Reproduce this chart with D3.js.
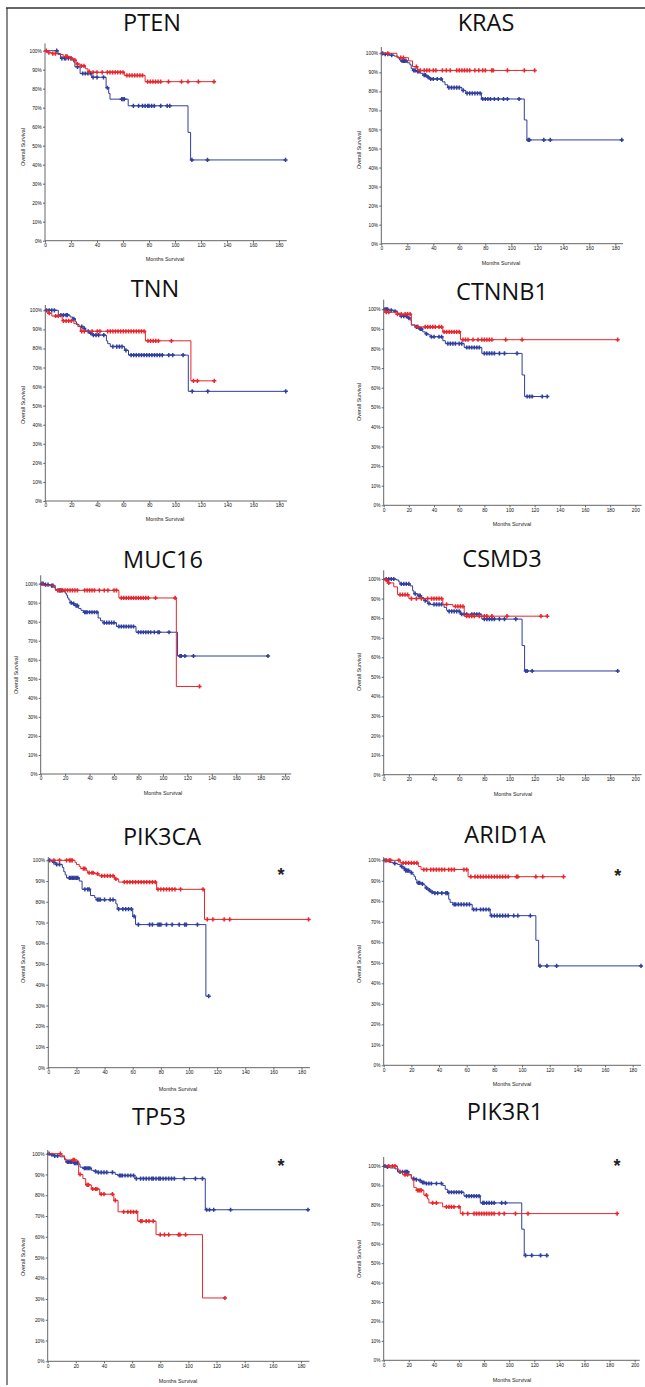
<!DOCTYPE html>
<html>
<head>
<meta charset="utf-8">
<script src="https://cdn.jsdelivr.net/npm/d3@7"></script>
<style>
body { margin: 0; background: #fff; }
svg { display: block; }
.title { font-family: 'Open Sans', sans-serif; font-size: 23.5px; fill: #111; }
.axis text { font-family: 'Liberation Sans', Arial, sans-serif; font-size: 4.8px; fill: #111; }
.axis line, .axis path { stroke: #555; }
.label { font-family: 'Liberation Sans', Arial, sans-serif; font-size: 5.4px; fill: #222; }
.star { font-family: 'Liberation Sans', Arial, sans-serif; font-size: 18px; font-weight: bold; fill: #222; }
</style>
</head>
<body>
<script>
const genes = ['PTEN', 'KRAS', 'TNN', 'CTNNB1', 'MUC16', 'CSMD3', 'PIK3CA', 'ARID1A', 'TP53', 'PIK3R1']
const starred = ['PIK3CA', 'ARID1A', 'TP53', 'PIK3R1']

const yTicks = d3.range(0, 101, 10)

// step points [month, survival %] and censor times, red = altered, blue = unaltered
const ptenRed = [[0,100],[2,99],[5,98.5],[10,98],[14,97],[19,96],[22,95],[24,93],[27,92],[31,90.5],[33,89],[35,88.6],[61,87],[77,83.7]]
const ptenRedCens = [1,3,6,8,16,17,20,23,25,28,30,34,37,40,44,48,50,52,54,56,58,60,63,65,67,69,71,73,75,79,81,83,85,87,89,95,105,110,118,130]
const ptenBlue = [[0,100],[10,98.5],[12,96],[21,95],[22,94],[23,91.5],[27,88],[36,86],[47,80.5],[49,77.5],[50,74.5],[64,71],[110,57],[112,42.5]]
const ptenBlueCens = [9,13,15,16,18,20,25,29,31,33,35,37,40,45,48,59,60,61,68,72,75,77,79,80,82,84,89,94,96,113,125,185]

const krasRed = [[0,100],[12,97.7],[21,96],[24,93],[28,91]]
const krasRedCens = [5,15,17,27,30,33,35,37,40,42,47,50,53,58,60,62,64,66,68,72,75,78,80,85,86,97,110,118]
const krasBlue = [[0,100],[2,99.5],[6,99],[10,98.5],[13,97.5],[14,96.5],[15,96],[20,95],[22,94],[23,92],[24,91],[27,90.5],[30,89.5],[32,88.5],[35,87.5],[37,86.5],[47,85],[49,83.5],[51,82],[62,80.5],[65,79],[77,76],[110,65],[112,54.5]]
const krasBlueCens = [1,3,5,8,16,17,18,19,25,26,28,29,33,34,36,38,40,43,46,52,54,56,58,60,63,66,68,70,72,74,76,78,80,82,84,87,90,94,97,106,113,114,125,130,185]

const tnnRed = [[0,100],[2,98.5],[5,97],[13,94.5],[22,93],[25,91.5],[27,89],[77,84],[112,63]]
const tnnRedCens = [3,8,10,14,16,18,20,28,30,36,40,42,48,50,52,54,56,58,60,62,64,66,68,70,72,74,76,79,81,83,85,87,97,114,117,130]
const tnnBlue = [[0,100],[10,97.5],[19,96.5],[21,95.5],[23,94],[24,92.5],[26,91.5],[29,90.5],[31,89],[34,88],[36,87],[47,84],[48,82.5],[50,81],[61,79],[64,76.5],[110,57.5]]
const tnnBlueCens = [1,3,5,7,12,14,16,17,22,28,30,33,35,37,39,41,45,52,55,57,59,62,66,68,70,72,74,76,78,80,82,84,86,88,90,95,98,106,113,125,185]

const ctnnb1Red = [[0,100],[1,98.5],[10,97.5],[22,92],[25,91],[47,88.5],[61,84.5]]
const ctnnb1RedCens = [2,4,11,14,17,19,21,27,33,35,37,39,41,44,46,48,50,52,54,56,58,60,63,65,67,71,75,78,80,82,84,86,97,110,186]
const ctnnb1Blue = [[0,100],[4,99.5],[8,99],[11,98],[13,96.5],[19,95.5],[21,94.5],[22,92],[25,91],[28,90],[31,88.5],[33,87.5],[35,87],[37,86],[47,84],[49,82.5],[64,80.5],[78,77.5],[110,66.5],[112,55.5]]
const ctnnb1BlueCens = [1,2,3,6,9,14,16,18,20,26,27,29,30,34,38,40,44,46,51,53,55,57,60,62,66,68,70,72,74,76,80,82,84,86,88,92,96,106,114,116,118,126,130]

const muc16Red = [[0,100],[2,99],[12,96.5],[64,92.5],[111,46]]
const muc16RedCens = [14,16,18,20,22,24,26,28,30,36,38,40,42,44,48,52,55,60,62,66,68,70,72,74,76,78,80,82,84,86,88,94,110,130]
const muc16Blue = [[0,100],[3,99.5],[8,99],[11,98],[12,97],[14,96.5],[18,96],[20,95],[21,94],[22,92.5],[23,91.5],[24,90],[26,89.5],[28,88.5],[31,87],[33,86],[35,85],[47,82],[49,80.5],[51,79.5],[62,77.5],[78,74.5],[112,62]]
const muc16BlueCens = [1,2,4,6,9,10,15,16,17,25,27,29,30,36,37,38,40,42,44,46,52,54,56,58,60,64,66,68,70,72,74,76,80,82,84,86,88,90,93,96,97,105,114,115,118,125,186]

const csmd3Red = [[0,100],[1,99.5],[3,98],[8,96],[11,92],[20,90],[47,87],[55,86],[64,81]]
const csmd3RedCens = [2,4,13,15,17,19,22,26,30,35,38,40,42,44,46,50,57,59,61,63,66,68,70,72,76,80,82,86,98,125,130]
const csmd3Blue = [[0,100],[10,99.5],[12,98.5],[13,97.5],[21,96.5],[23,94],[24,92.5],[27,91.5],[30,90.5],[32,89],[34,88.5],[35,87.5],[37,87],[48,85.5],[50,84],[51,83.5],[61,82],[78,79.5],[110,66],[112,53]]
const csmd3BlueCens = [2,4,6,8,14,16,18,20,25,28,29,33,36,40,42,44,46,52,54,56,58,60,62,64,66,70,72,74,76,80,82,84,86,88,92,96,105,113,114,118,186]

const pik3caRed = [[0,100],[19,99],[20,98],[22,97],[23,96],[27,95],[28,94],[33,93.5],[36,92.5],[47,91],[50,89.5],[77,86],[111,71.5]]
const pik3caRedCens = [4,8,13,15,16,17,25,26,29,31,32,35,38,40,42,44,46,48,54,56,58,60,62,64,66,68,70,72,74,76,78,80,82,84,86,88,90,94,110,113,117,125,129,185]
const pik3caBlue = [[0,100],[2,99.5],[3,99],[5,98],[10,96.5],[11,94.5],[12,93],[13,91.5],[22,90],[24,86],[30,83],[33,82],[34,81],[48,79],[49,76.5],[60,73],[62,69],[112,34.5]]
const pik3caBlueCens = [1,4,6,8,15,16,17,18,19,20,21,26,28,29,35,36,37,40,44,46,50,53,55,57,59,61,64,72,74,78,79,80,84,88,93,97,98,106,114]

const arid1aRed = [[0,100],[12,98.7],[25,97],[27,95.5],[61,92]]
const arid1aRedCens = [2,4,5,11,14,16,18,20,22,24,29,31,34,36,38,40,42,44,47,49,51,58,60,63,66,68,70,72,74,76,78,80,82,84,86,88,90,96,97,110,115,130]
const arid1aBlue = [[0,100],[2,99.5],[4,99],[7,98.5],[10,98],[12,97],[14,96],[16,95],[19,94],[21,93],[22,92],[23,90.5],[24,89],[27,88.5],[29,88],[30,86.5],[32,85.5],[34,84.5],[36,84],[47,81],[48,79.5],[50,78.5],[64,76],[77,73],[110,61],[112,48.5]]
const arid1aBlueCens = [1,8,13,15,16,17,18,20,25,26,28,31,33,35,37,39,42,45,46,51,52,54,56,58,60,62,65,67,70,72,74,76,78,80,82,84,86,88,90,94,97,106,113,118,125,186]

const tp53Red = [[0,100],[10,99],[12,97],[21,96.5],[22,90],[25,88],[27,85],[31,83],[37,80.5],[47,77.5],[50,72],[64,67.5],[77,61],[110,30.5]]
const tp53RedCens = [9,18,19,23,28,29,32,34,35,38,40,46,48,54,57,59,61,63,66,67,70,72,75,80,83,86,93,94,98,126]
const tp53Blue = [[0,100],[2,99.5],[4,99],[9,98.5],[12,97.5],[13,96],[18,95.5],[22,95],[23,93.5],[25,93],[31,92],[33,91.5],[35,91],[48,90],[50,89.5],[62,88],[112,73]]
const tp53BlueCens = [1,3,5,7,14,15,16,17,19,20,21,26,27,28,29,30,34,36,38,40,42,46,51,52,53,55,57,59,61,63,66,68,70,72,74,75,77,79,80,82,84,86,88,90,97,105,110,113,115,118,130,185]

const pik3r1Red = [[0,100],[11,98.5],[12,97],[15,95.5],[22,94],[23,92.5],[24,89],[26,87.5],[32,85],[35,83],[36,81],[47,79],[61,75.5]]
const pik3r1RedCens = [4,7,9,17,19,27,28,29,30,34,39,42,50,52,54,56,60,63,67,72,74,76,78,80,82,84,86,88,92,96,105,115,186]
const pik3r1Blue = [[0,100],[2,99.5],[5,99],[9,98.5],[11,97],[20,95.5],[22,93.5],[25,93],[28,92.5],[30,91.5],[33,91],[47,90],[49,88],[51,86.5],[64,84.5],[77,81],[110,67.5],[112,54]]
const pik3r1BlueCens = [1,3,13,15,17,18,19,24,26,29,31,32,34,36,38,42,46,52,54,56,58,60,62,66,68,70,72,74,76,79,80,82,84,86,88,94,97,113,118,125,130]

const redSteps = [ptenRed, krasRed, tnnRed, ctnnb1Red, muc16Red, csmd3Red, pik3caRed, arid1aRed, tp53Red, pik3r1Red]
const redCens = [ptenRedCens, krasRedCens, tnnRedCens, ctnnb1RedCens, muc16RedCens, csmd3RedCens, pik3caRedCens, arid1aRedCens, tp53RedCens, pik3r1RedCens]
const blueSteps = [ptenBlue, krasBlue, tnnBlue, ctnnb1Blue, muc16Blue, csmd3Blue, pik3caBlue, arid1aBlue, tp53Blue, pik3r1Blue]
const blueCens = [ptenBlueCens, krasBlueCens, tnnBlueCens, ctnnb1BlueCens, muc16BlueCens, csmd3BlueCens, pik3caBlueCens, arid1aBlueCens, tp53BlueCens, pik3r1BlueCens]

// layout of each panel in page pixels (x0: month 0, x1: axis end at xMax)
const frames = [
    { x0: 45, x1: 286.8, xMax: 186, tMax: 180, y100: 50.7, y0: 240.7, yTop: 43.5, title: [152, 23], xl: [165, 259], yl: [23, 147] },
    { x0: 381.3, x1: 623.1, xMax: 186, tMax: 180, y100: 53.3, y0: 243.7, yTop: 47, title: [486, 23], xl: [501, 263], yl: [359, 150] },
    { x0: 45.3, x1: 287.1, xMax: 186, tMax: 180, y100: 310.3, y0: 501, yTop: 305, title: [155, 289], xl: [165, 519], yl: [23, 405] },
    { x0: 383.7, x1: 641.6, xMax: 205, tMax: 200, y100: 309.3, y0: 505.3, yTop: 299.7, title: [502, 292], xl: [512, 524], yl: [359.3, 402] },
    { x0: 40.7, x1: 291.2, xMax: 205, tMax: 200, y100: 583.7, y0: 774, yTop: 575.3, title: [163, 560], xl: [163, 793], yl: [16, 675] },
    { x0: 383.7, x1: 641.6, xMax: 205, tMax: 200, y100: 579, y0: 774.7, yTop: 570.3, title: [502, 559], xl: [513, 794], yl: [359, 672] },
    { x0: 48.3, x1: 310, xMax: 186, tMax: 180, y100: 860.3, y0: 1067.7, yTop: 857, title: [162, 837], xl: [178, 1089], yl: [22.7, 964], star: [281, 870] },
    { x0: 383.7, x1: 641, xMax: 186, tMax: 180, y100: 860.3, y0: 1065.3, yTop: 857, title: [505, 835], xl: [512, 1084], yl: [359.3, 964], star: [617.7, 871] },
    { x0: 47.7, x1: 309.4, xMax: 186, tMax: 180, y100: 1153.7, y0: 1361.3, yTop: 1150, title: [159, 1117], xl: [178, 1381], yl: [22.7, 1257], star: [281, 1161] },
    { x0: 383.7, x1: 639.7, xMax: 204, tMax: 200, y100: 1166, y0: 1360.3, yTop: 1157, title: [505, 1112], xl: [512, 1380], yl: [359.3, 1259], star: [617, 1161] },
]

const red = '#e8262b', blue = '#2f3f9c'

const svg = d3.select('body').append('svg')
    .attr('width', 645)
    .attr('height', 1387)

// page frame
svg.append('line').attr('x1', 7).attr('x2', 7).attr('y1', 8).attr('y2', 1385)
    .attr('stroke', '#8a8a8a').attr('stroke-width', 2)
svg.append('line').attr('x1', 6).attr('x2', 645).attr('y1', 8).attr('y2', 8)
    .attr('stroke', '#333').attr('stroke-width', 1.5)

const lookup = (steps, t) => {
    let s = steps[0][1]
    steps.forEach(p => { if (p[0] <= t) s = p[1] })
    return s
}

const plus = 'M-2.1,0H2.1M0,-2.1V2.1'

genes.map((gene, i) => {
    const f = frames[i]
    const g = svg.append('g').attr('class', 'panel')

    const x = d3.scaleLinear().domain([0, f.xMax]).range([f.x0, f.x1])
    const y = d3.scaleLinear().domain([0, 100]).range([f.y0, f.y100])

    g.append('text')
        .attr('class', 'title')
        .attr('text-anchor', 'middle')
        .attr('x', f.title[0])
        .attr('y', f.title[1] + 8.4)
        .text(gene)

    // axes
    const ay = g.append('g').attr('class', 'axis')
        .attr('transform', `translate(${f.x0},0)`)
        .call(d3.axisLeft(y).tickValues(yTicks).tickSize(2).tickPadding(1.2).tickFormat(d => d + '%'))
    ay.select('.domain').remove()
    ay.append('line').attr('x1', 0).attr('x2', 0).attr('y1', f.yTop).attr('y2', f.y0)

    const ax = g.append('g').attr('class', 'axis')
        .attr('transform', `translate(0,${f.y0})`)
        .call(d3.axisBottom(x).tickValues(d3.range(0, f.tMax + 1, 20)).tickSize(2).tickPadding(1))
    ax.select('.domain').remove()
    ax.append('line').attr('x1', f.x0).attr('x2', f.x1).attr('y1', 0).attr('y2', 0)
    g.selectAll('.axis line').attr('stroke-width', 0.9)

    g.append('text')
        .attr('class', 'label')
        .attr('text-anchor', 'middle')
        .attr('x', f.xl[0])
        .attr('y', f.xl[1] + 2)
        .text('Months Survival')
    g.append('text')
        .attr('class', 'label')
        .attr('text-anchor', 'middle')
        .attr('transform', `translate(${f.yl[0] + 2},${f.yl[1]}) rotate(-90)`)
        .text('Overall Survival')

    // curves
    const line = d3.line()
        .curve(d3.curveStepAfter)
        .x(d => x(d[0]))
        .y(d => y(d[1]))

    const series = [
        { steps: blueSteps[i], cens: blueCens[i], color: blue },
        { steps: redSteps[i], cens: redCens[i], color: red },
    ]
    series.map(s => {
        const last = s.steps[s.steps.length - 1]
        const end = Math.max(last[0], d3.max(s.cens))
        g.append('path')
            .datum(s.steps.concat([[end, last[1]]]))
            .attr('fill', 'none')
            .attr('stroke', s.color)
            .attr('stroke-width', 1)
            .attr('d', line)
        g.selectAll(null).data(s.cens).enter().append('path')
            .attr('transform', t => `translate(${x(t)},${y(lookup(s.steps, t))})`)
            .attr('d', plus)
            .attr('fill', 'none')
            .attr('stroke', s.color)
            .attr('stroke-width', 1.5)
    })

    if (starred.includes(gene)) {
        g.append('text')
            .attr('class', 'star')
            .attr('text-anchor', 'middle')
            .attr('x', f.star[0])
            .attr('y', f.star[1] + 10.6)
            .text('*')
    }
})
</script>
</body>
</html>
